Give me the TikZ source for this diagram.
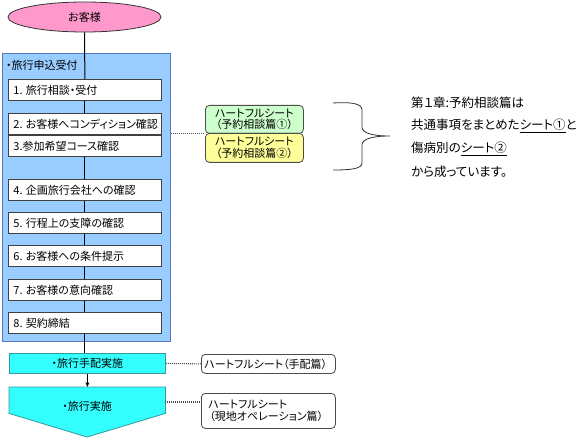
\documentclass[tikz,border=0pt]{standalone}
\usepackage{fontspec}
\setmainfont{Noto Sans CJK JP}[RawFeature=+palt]
\usetikzlibrary{shapes.geometric,arrows.meta}
\definecolor{pinkfill}{HTML}{FF99CC}
\definecolor{bluefill}{HTML}{99CCFF}
\definecolor{blueedge}{HTML}{5577BB}
\definecolor{cyanfill}{HTML}{33FFFF}
\definecolor{cyanedge}{HTML}{339999}
\definecolor{greenfill}{HTML}{CCFFCC}
\definecolor{yellowfill}{HTML}{FFFF99}
\newcommand\stepline[1]{\makebox[143pt][l]{#1}}
\tikzset{
  boxfont/.style={font=\fontsize{11}{12.5}\selectfont},
  stepbox/.style={draw=black!75, fill=white, line width=0.8pt, anchor=north west,
    minimum height=21pt, minimum width=153pt, inner xsep=5pt, boxfont},
  sheetbox/.style={draw=black!70, rounded corners=4pt, line width=0.8pt, anchor=north west,
    font=\fontsize{11}{11.5}\selectfont},
  dotline/.style={black!70, line width=1.1pt, dash pattern=on 1pt off 1pt},
  flowline/.style={black, line width=1pt},
  bodytext/.style={anchor=west, inner sep=0pt, font=\fontsize{12.5}{14}\selectfont}
}
\begin{document}
\begin{tikzpicture}[x=1pt,y=-1pt]
\useasboundingbox (0,0) rectangle (580,438);
% customer
\node[ellipse, draw=black!80, fill=pinkfill, line width=0.8pt, minimum width=153pt, minimum height=30pt,
  boxfont] (cust) at (84.5,17) {お客様};
% big application box
\node[draw=blueedge, fill=bluefill, line width=1.2pt, anchor=north west, minimum width=168pt, minimum height=288pt] (plan) at (2,53) {};
\node[anchor=west, inner sep=0pt, boxfont] (plantitle) at (6,65) {・旅行申込受付};
% steps
\node[stepbox] (s1) at (8,79) {\stepline{1. 旅行相談・受付}};
\node[stepbox] (s2) at (8,113) {\stepline{2. お客様へコンディション確認}};
\node[stepbox] (s3) at (8,135) {\stepline{3.参加希望コース確認}};
\node[stepbox] (s4) at (8,179) {\stepline{4. 企画旅行会社への確認}};
\node[stepbox] (s5) at (8,212) {\stepline{5. 行程上の支障の確認}};
\node[stepbox] (s6) at (8,245) {\stepline{6. お客様への条件提示}};
\node[stepbox] (s7) at (8,279) {\stepline{7. お客様の意向確認}};
\node[stepbox] (s8) at (8,312) {\stepline{8. 契約締結}};
% flow lines
\draw[flowline] (cust.south) -- (s1.north);
\draw[flowline] (s1.south) -- (s2.north);
\draw[flowline] (s3.south) -- (s4.north);
\draw[flowline] (s4.south) -- (s5.north);
\draw[flowline] (s5.south) -- (s6.north);
\draw[flowline] (s6.south) -- (s7.north);
\draw[flowline] (s7.south) -- (s8.north);
% arrangement
\node[draw=cyanedge, fill=cyanfill, line width=0.8pt, anchor=north west, minimum width=156pt, minimum height=20pt,
  boxfont] (c1) at (9,353) {・旅行手配実施};
\draw[flowline] (s8.south) -- (s8.south |- c1.north);
% execution pentagon
\node[anchor=north west, minimum width=156pt, minimum height=26pt, inner sep=0pt] (c2) at (9,387) {};
\coordinate (tip) at (87,437);
\draw[draw=cyanedge, fill=cyanfill, line width=0.8pt] (c2.north west) -- (c2.north east) -- (c2.south east) -- (tip) -- (c2.south west) -- cycle;
\node[boxfont] (c2t) at ([yshift=-6pt]c2.center) {・旅行実施};
\draw[flowline, -{Stealth[length=5pt,width=4pt]}] (c1.south) -- (c1.south |- c2.north);
% sheets
\node[sheetbox, fill=greenfill, minimum width=98pt, minimum height=28pt, align=center, inner sep=1pt] (g) at (205,105) {ハートフルシート\\（予約相談篇①）};
\node[sheetbox, fill=yellowfill, minimum width=98pt, minimum height=29pt, align=center, inner sep=1pt] (y) at (205,133) {ハートフルシート\\（予約相談篇②）};
\draw[dotline] (g.south west -| plan.east) -- (g.south west);
\node[sheetbox, fill=white, minimum width=134pt, minimum height=19pt, text width=128pt, inner xsep=3pt, align=left] (h1) at (201,354) {ハートフルシート（手配篇）};
\node[sheetbox, fill=white, minimum width=134pt, minimum height=35pt, text width=124pt, align=left] (h2) at (201,393) {\hspace*{2pt}ハートフルシート\\\hspace*{3pt}（現地オペレーション篇）};
\draw[dotline] (c1.east) -- (h1.west);
\draw[dotline] (c2.east |- 0,402) -- (h2.west |- 0,402);
% brace
\draw[black!80, line width=0.8pt] (333,103) .. controls (350,102) and (362,103) .. (362,110) -- (362,127)
  .. controls (362,133) and (372,136) .. (390,136)
  .. controls (372,136) and (362,139) .. (362,145) -- (362,163)
  .. controls (362,169) and (350,170) .. (333,170);
% explanation
\node[bodytext] (t1) at (411,103) {第１章:予約相談篇は};
\node[bodytext] (t2) at (411,126) {共通事項をまとめた\underline{シート①}と};
\node[bodytext] (t3) at (411,149) {傷病別の\underline{シート②}};
\node[bodytext] (t4) at (411,172) {から成っています。};
\end{tikzpicture}
\end{document}
